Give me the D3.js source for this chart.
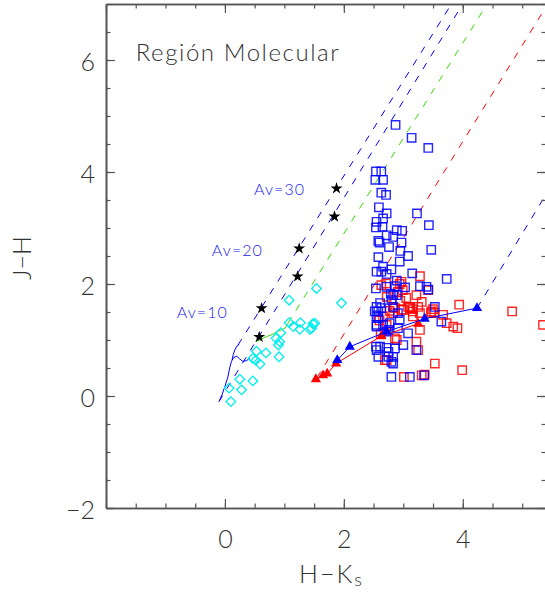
<!DOCTYPE html>
<html>
<head>
<meta charset="utf-8">
<script src="https://cdn.jsdelivr.net/npm/d3@7"></script>
<style>
  body { margin: 0; background: #fff; }
  text { font-family: "Lato", "Liberation Sans", sans-serif; }
</style>
</head>
<body>
<svg id="main" width="545" height="592"></svg>
<script>
// ---- data ----
var xMajor = [0, 2, 4];
var yMajor = [-2, 0, 2, 4, 6];

// intrinsic colours: dwarfs and giants
var dwarfLocus = [[-0.10,-0.10],[-0.05,0.02],[0.00,0.17],[0.05,0.34],[0.08,0.50],[0.11,0.62],[0.15,0.69],[0.20,0.71],[0.25,0.66],[0.30,0.62],[0.36,0.63],[0.42,0.67]];
var giantLocus = [[0.12,0.64],[0.14,0.74],[0.17,0.83],[0.20,0.89],[0.24,0.92]];
var cttsLocus = [[0.52,0.97],[0.62,1.02],[0.70,1.06],[0.80,1.10],[0.87,1.15],[0.95,1.18],[1.01,1.21],[1.06,1.30]];

// reddening vectors (start, end)
var redBlueUpper = [[0.22,0.91],[3.81,7.0]];
var redBlueLower = [[-0.10,-0.10],[4.00,7.0]];
var redGreen = [[1.06,1.30],[4.41,7.0]];
var redRed = [[1.55,0.33],[5.43,7.0]];
var redBlueRight = [[4.24,1.57],[5.40,3.60]];

var starsAv = [[0.617,1.567],[1.249,2.634],[1.877,3.707],[0.577,1.054],[1.222,2.134],[1.843,3.204]];
var avLabels = ["Av=10", "Av=20", "Av=30"];
var avPos = [[-0.81,1.40],[-0.22,2.50],[0.49,3.59]];

var blueTri = [[1.89,0.64],[2.10,0.88],[2.72,1.15],[3.36,1.38],[4.24,1.57]];
var redTri = [[1.53,0.30],[1.65,0.37],[1.72,0.40],[1.87,0.58],[2.63,1.07],[3.25,1.29]];

var cyanDiamonds = [[1.54,1.92],[1.08,1.71],[1.96,1.66],[1.08,1.31],[1.27,1.31],[1.48,1.29],[1.51,1.30],[1.15,1.24],
  [1.26,1.19],[1.43,1.19],[1.46,1.21],[0.94,1.13],[0.86,1.03],[0.92,0.97],[0.90,0.91],[0.53,0.80],[0.69,0.77],
  [0.91,0.70],[0.47,0.67],[0.52,0.64],[0.59,0.57],[0.25,0.30],[0.47,0.27],[0.07,0.14],[0.28,0.11],[0.10,-0.10]];

var redSquares = [[3.28,2.14],[2.71,2.01],[2.94,2.00],[3.42,1.89],[3.22,1.80],[2.97,2.04],[2.91,1.86],[2.99,1.89],
  [2.63,1.98],[2.72,1.77],[3.08,1.59],[3.16,1.55],[3.25,1.59],[2.97,1.54],[2.86,1.57],[2.77,1.52],[3.50,1.55],
  [2.83,1.59],[3.00,1.54],[3.11,1.59],[3.16,1.51],[3.28,1.48],[3.31,1.68],[3.47,1.51],[2.83,1.48],[2.66,1.42],
  [2.72,1.27],[3.16,1.42],[3.11,1.57],[3.94,1.63],[4.83,1.51],[5.35,1.27],[3.84,1.24],[3.91,1.21],[3.73,1.30],
  [3.67,1.45],[3.47,1.48],[3.52,1.49],[3.28,1.18],[3.25,0.82],[3.22,0.97],[2.89,1.00],[2.86,1.03],[2.69,0.64],
  [2.72,0.64],[3.53,0.58],[3.99,0.46],[3.36,0.38],[3.01,0.34],[3.31,0.37],[2.60,1.35],[2.62,1.10],[2.95,1.70],[3.05,1.75]];

var blueSquares = [[2.87,4.84],[3.14,4.61],[3.42,4.43],[2.54,4.01],[2.63,4.01],[2.53,3.86],[2.66,3.86],[2.63,3.63],
  [2.71,3.59],[2.59,3.37],[2.72,3.26],[2.66,3.17],[3.23,3.26],[2.55,3.11],[2.54,3.01],[2.65,3.02],[3.43,3.05],
  [2.89,2.96],[2.98,2.95],[2.72,2.87],[2.83,2.84],[2.58,2.77],[2.60,2.74],[2.97,2.74],[2.76,2.66],[2.95,2.59],
  [3.47,2.61],[2.58,2.48],[3.08,2.50],[2.94,2.40],[2.66,2.31],[2.55,2.22],[2.63,2.22],[2.80,2.26],[2.72,2.18],
  [3.15,2.19],[3.73,2.09],[2.89,2.06],[2.54,1.92],[2.72,1.95],[2.86,1.96],[3.03,1.94],[3.28,1.96],[3.39,1.95],
  [2.79,1.83],[2.89,1.80],[3.42,1.90],[2.83,1.80],[2.80,1.71],[2.61,1.66],[2.55,1.59],[2.63,1.57],[2.52,1.51],
  [2.58,1.51],[3.53,1.59],[2.83,1.59],[2.55,1.42],[2.58,1.39],[2.91,1.48],[2.94,1.36],[3.64,1.33],[2.55,1.27],
  [2.66,1.27],[2.77,1.30],[2.55,1.24],[2.91,1.21],[2.72,1.15],[2.75,1.18],[3.08,1.12],[2.61,0.88],[2.72,0.86],
  [2.54,0.88],[3.00,0.91],[2.86,0.85],[2.55,0.82],[2.75,0.79],[3.22,0.82],[2.58,0.70],[2.75,0.70],[2.83,0.70],
  [2.80,0.61],[2.83,0.58],[2.80,0.34],[3.11,0.34],[3.35,0.37]];

// ---- drawing ----
var svg = d3.select("#main");
var x = d3.scaleLinear().domain([-2, 5.4]).range([106, 546]);
var y = d3.scaleLinear().domain([-2, 7]).range([508, 4]);
var axisCol = "#555";

svg.append("clipPath").attr("id", "clip")
  .append("rect").attr("x", 106).attr("y", 4).attr("width", 440).attr("height", 504);

var plot = svg.append("g").attr("clip-path", "url(#clip)");
var line = d3.line().x(d => x(d[0])).y(d => y(d[1]));

function dashed(pts, col){
  plot.append("path").attr("d", line(pts))
    .attr("fill", "none").attr("stroke", col).attr("stroke-width", 1)
    .attr("stroke-dasharray", "7,8");
}
dashed(redBlueUpper, "#0000ff");
dashed(redBlueLower, "#0000ff");
dashed(redGreen, "#33dd00");
dashed(redRed, "#ff0000");
dashed(redBlueRight, "#0000ff");

plot.append("path").attr("d", line(dwarfLocus)).attr("fill","none").attr("stroke","#0000ff").attr("stroke-width",1);
plot.append("path").attr("d", line(giantLocus)).attr("fill","none").attr("stroke","#0000ff").attr("stroke-width",1);
plot.append("path").attr("d", line(cttsLocus)).attr("fill","none").attr("stroke","#33dd00").attr("stroke-width",1);

var sq = d3.symbol().type(d3.symbolSquare).size(70);
function squares(data, col){
  plot.selectAll(null).data(data).enter().append("path")
    .attr("d", sq)
    .attr("transform", d => "translate(" + x(d[0]) + "," + y(d[1]) + ")")
    .attr("fill", "none").attr("stroke", col).attr("stroke-width", 1.4).attr("stroke-opacity", 0.85);
}
squares(redSquares, "#ff0000");
squares(blueSquares, "#0000ff");

plot.selectAll(null).data(cyanDiamonds).enter().append("path")
  .attr("d", d3.symbol().type(d3.symbolSquare).size(46))
  .attr("transform", d => "translate(" + x(d[0]) + "," + y(d[1]) + ") rotate(45)")
  .attr("fill", "none").attr("stroke", "#00eeee").attr("stroke-width", 1.3);

function triLine(data, col){
  plot.append("path").attr("d", line(data)).attr("fill","none").attr("stroke",col).attr("stroke-width",1);
  plot.selectAll(null).data(data).enter().append("path")
    .attr("d", d3.symbol().type(d3.symbolTriangle).size(45))
    .attr("transform", d => "translate(" + x(d[0]) + "," + y(d[1]) + ")")
    .attr("fill", col);
}
triLine(redTri, "#ff0000");
triLine(blueTri, "#0000ff");

plot.selectAll(null).data(starsAv).enter().append("path")
  .attr("d", d3.symbol().type(d3.symbolStar).size(45))
  .attr("transform", d => "translate(" + x(d[0]) + "," + y(d[1]) + ")")
  .attr("fill", "#000");

svg.selectAll(null).data(avLabels).enter().append("text")
  .attr("x", (d, i) => x(avPos[i][0])).attr("y", (d, i) => y(avPos[i][1]))
  .attr("fill", "#2222ee").style("font-size", "16px").style("font-weight", 300)
  .attr("textLength", 50)
  .text(d => d);

svg.append("text").attr("x", x(-1.5)).attr("y", y(5.98))
  .attr("fill", "#333").style("font-size", "24px").style("font-weight", 300)
  .attr("textLength", 203)
  .text("Región Molecular");

// ---- axes (box, ticks inward) ----
function minor(lo, hi){ return d3.range(lo, hi + 0.001, 0.5); }
var fmt = d => d < 0 ? "\u2212" + Math.abs(d) : d;

function addAxis(gen, tx, ty, vals, size, labels){
  var a = gen.tickValues(vals).tickSizeInner(size).tickSizeOuter(0).tickPadding(labels ? 11 : 0)
    .tickFormat(labels ? fmt : "");
  var g = svg.append("g").attr("transform", "translate(" + tx + "," + ty + ")").call(a);
  g.select(".domain").attr("stroke", axisCol).attr("stroke-width", 1.6);
  g.selectAll(".tick line").attr("stroke", axisCol).attr("stroke-width", 1.2);
  g.selectAll("text").attr("fill", "#333").style("font-size", "25px").style("font-weight", 300)
    .style("font-family", "Lato, 'Liberation Sans', sans-serif");
  return g;
}
addAxis(d3.axisBottom(x), 0, 508, minor(-2, 5), -4.5, false);
addAxis(d3.axisBottom(x), 0, 508, xMajor, -9, true)
  .selectAll(".tick text").attr("y", 40).attr("dy", 0);
addAxis(d3.axisTop(x), 0, 4, minor(-2, 5), -4.5, false);
addAxis(d3.axisTop(x), 0, 4, [-2, 0, 2, 4], -9, false);
addAxis(d3.axisLeft(y), 106, 0, minor(-2, 7), -4.5, false);
addAxis(d3.axisLeft(y), 106, 0, yMajor, -9, true)
  .selectAll(".tick text").attr("dy", "0.4em");
addAxis(d3.axisRight(y), 546, 0, minor(-2, 7), -4.5, false);
addAxis(d3.axisRight(y), 546, 0, yMajor, -9, false);

// axis titles
svg.append("text").attr("transform", "translate(31,258) rotate(-90)")
  .attr("text-anchor", "middle").attr("fill", "#333")
  .style("font-size", "25px").style("font-weight", 300)
  .text("J\u2212H");

var xt = svg.append("text").attr("x", 299).attr("y", 583).attr("fill", "#333")
  .style("font-size", "25px").style("font-weight", 300);
xt.append("tspan").style("letter-spacing", "2px").text("H\u2212K");
xt.append("tspan").attr("dy", 3).style("font-size", "18px").text("s");
</script>
</body>
</html>
